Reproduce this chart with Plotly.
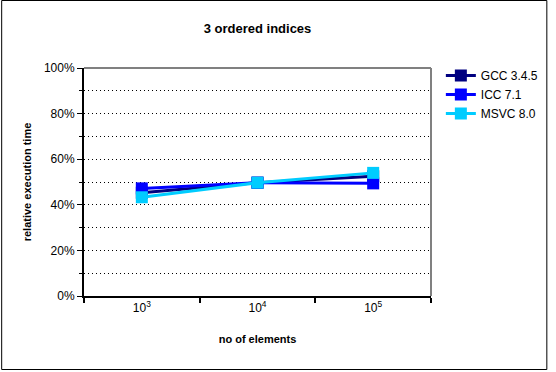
import plotly.graph_objects as go

categories = ["10<sup>3</sup>", "10<sup>4</sup>", "10<sup>5</sup>"]
gcc = [0.453, 0.497, 0.525]
icc = [0.472, 0.497, 0.494]
msvc = [0.433, 0.497, 0.540]
series = [("GCC 3.4.5", gcc, "#000080"), ("ICC 7.1", icc, "#0000FF"), ("MSVC 8.0", msvc, "#00CCFF")]

W, H = 556, 372
L, R, T, B = 84, 436, 68, 296

fig = go.Figure()
for name, vals, col in series:
    fig.add_trace(go.Scatter(x=categories, y=vals, name=name, mode="lines+markers",
                             line=dict(color=col, width=3),
                             marker=dict(symbol="square", size=12, color=col)))

def px(x):
    return (x - L) / (R - L)

def py(y):
    return (B - y) / (B - T)

font = "Liberation Sans, Arial, sans-serif"
fig.update_layout(
    width=W, height=H,
    margin=dict(l=L, r=W - R, t=T, b=H - B),
    paper_bgcolor="white", plot_bgcolor="white",
    font=dict(family=font, size=11, color="black"),
    title=dict(text="<b>3 ordered indices</b>", x=px(260), xref="paper", xanchor="center",
               y=1 - 28 / H, yanchor="middle", font=dict(size=13)),
    showlegend=True,
    legend=dict(x=px(446), y=py(61), xanchor="left", yanchor="top", font=dict(size=12),
                bgcolor="rgba(0,0,0,0)", itemwidth=30, tracegroupgap=0),
    xaxis=dict(type="category", range=[-0.5, 2.5], showgrid=False, showline=True,
               linecolor="black", linewidth=2, ticks="outside", tickson="boundaries",
               ticklen=5, tickcolor="black", tickwidth=2, tickfont=dict(size=12),
               title=dict(text="<b>no of elements</b>", font=dict(size=11), standoff=21)),
    yaxis=dict(range=[0, 1], tickvals=[0, 0.2, 0.4, 0.6, 0.8, 1.0],
               ticktext=["0%", "20%", "40%", "60%", "80%", "100%"],
               showline=True, linecolor="black", linewidth=2, ticks="outside", ticklen=5,
               tickcolor="black", tickwidth=1, showgrid=True, gridcolor="black", gridwidth=1,
               griddash="1px,3px", zeroline=False, tickfont=dict(size=12),
               minor=dict(tickvals=[0.1, 0.3, 0.5, 0.7, 0.9], showgrid=True, gridcolor="black",
                          griddash="1px,3px", gridwidth=1, ticks="outside", ticklen=3, tickcolor="black"),
               title=dict(text="<b>relative execution time</b>", font=dict(size=11), standoff=10)),
    shapes=[
        dict(type="line", xref="paper", yref="paper", x0=0, x1=1, y0=1, y1=1,
             line=dict(color="#808080", width=2)),
        dict(type="line", xref="paper", yref="paper", x0=1, x1=1, y0=0, y1=1,
             line=dict(color="#808080", width=2)),
        dict(type="rect", xref="paper", yref="paper", x0=px(0.5), x1=px(553.5),
             y0=py(369.5), y1=py(0.5), line=dict(color="black", width=1), layer="below"),
    ],
)
fig.write_html("out.html", config={"displayModeBar": False},
               post_script="document.documentElement.style.overflow='hidden';document.body.style.margin='0';document.body.style.overflow='hidden';")
